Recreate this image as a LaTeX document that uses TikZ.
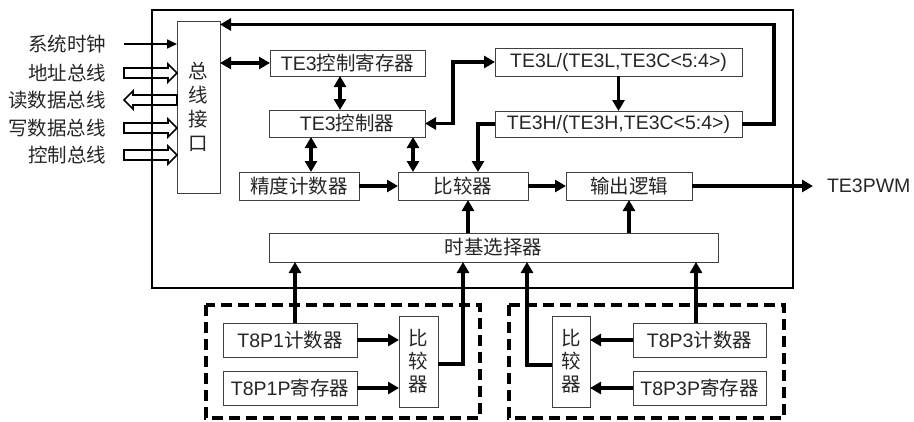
\documentclass[tikz,border=0pt]{standalone}
\usepackage{fontspec}
\setmainfont{Liberation Sans}
\newfontfamily\cjk{Noto Sans CJK SC}
\usetikzlibrary{arrows.meta,calc}
\begin{document}
\begin{tikzpicture}[x=1pt,y=-1pt,
  every node/.style={font=\fontsize{19.5}{23}\selectfont, text=black!85, inner sep=0pt, outer sep=0pt},
  box/.style={draw=black!75, line width=0.9pt, fill=white},
  arr/.style={line width=3.5pt, -{Triangle[length=11pt,width=12pt]}},
  dbl/.style={line width=3.5pt, {Triangle[length=11pt,width=12pt]}-{Triangle[length=11pt,width=12pt]}},
  thinarr/.style={line width=1.7pt, -{Triangle[length=10pt,width=9pt]}},
  hollow/.style={draw=black, line width=1.6pt},
  group/.style={draw=black, line width=3.2pt, dash pattern=on 11pt off 6pt},
  frame/.style={draw=black, line width=1.9pt}]
\useasboundingbox (0,0) rectangle (914,421);
% outer frame
\draw[frame] (152,10) rectangle (793,288);
% dashed groups
\draw[group] (206,305) rectangle (480,418);
\draw[group] (509,305) rectangle (784,418);
% left labels
\node[anchor=east,font=\fontsize{19.5}{23}\selectfont\cjk] (l1) at (106,44) {系统时钟};
\node[anchor=east,font=\fontsize{19.5}{23}\selectfont\cjk] (l2) at (106,73) {地址总线};
\node[anchor=east,font=\fontsize{19.5}{23}\selectfont\cjk] (l3) at (106,100) {读数据总线};
\node[anchor=east,font=\fontsize{19.5}{23}\selectfont\cjk] (l4) at (106,128) {写数据总线};
\node[anchor=east,font=\fontsize{19.5}{23}\selectfont\cjk] (l5) at (106,155) {控制总线};
% boxes
\node[box, minimum width=43pt, minimum height=172pt, align=center,
      font=\fontsize{19.5}{24}\selectfont\cjk] (bus) at (198.5,107) {总\\线\\接\\口};
\node[box, minimum width=155pt, minimum height=26pt] (reg) at (347.5,63) {TE3{\cjk 控制寄存器}};
\node[box, minimum width=156pt, minimum height=27pt] (ctl) at (347,123.5) {TE3{\cjk 控制器}};
\node[box, minimum width=120pt, minimum height=28pt, font=\fontsize{19.5}{23}\selectfont\cjk] (prec) at (299,186) {精度计数器};
\node[box, minimum width=130pt, minimum height=28pt, font=\fontsize{19.5}{23}\selectfont\cjk] (cmp) at (463,186) {比较器};
\node[box, minimum width=126pt, minimum height=28pt, font=\fontsize{19.5}{23}\selectfont\cjk] (out) at (629,186) {输出逻辑};
\node[box, minimum width=247pt, minimum height=28pt] (L) at (618.5,62) {TE3L/(TE3L,TE3C<5:4>)};
\node[box, minimum width=247pt, minimum height=26pt] (H) at (618.5,124) {TE3H/(TE3H,TE3C<5:4>)};
\node[box, minimum width=449pt, minimum height=29pt, font=\fontsize{19.5}{23}\selectfont\cjk] (tb) at (493.5,247.5) {时基选择器};
\node[box, minimum width=134pt, minimum height=34pt] (c1) at (290,340) {T8P1{\cjk 计数器}};
\node[box, minimum width=134pt, minimum height=34pt] (p1) at (290,388) {T8P1P{\cjk 寄存器}};
\node[box, minimum width=39pt, minimum height=91pt, align=center,
      font=\fontsize{19.5}{23}\selectfont\cjk] (k1) at (418.5,361.5) {比\\较\\器};
\node[box, minimum width=38pt, minimum height=91pt, align=center,
      font=\fontsize{19.5}{23}\selectfont\cjk] (k3) at (571,361.5) {比\\较\\器};
\node[box, minimum width=133pt, minimum height=34pt] (c3) at (699.5,340) {T8P3{\cjk 计数器}};
\node[box, minimum width=133pt, minimum height=34pt] (p3) at (699.5,388) {T8P3P{\cjk 寄存器}};
\node[anchor=west] (pwm) at (827,186) {TE3PWM};
% input side
\coordinate (s1) at (124,44);
\coordinate (s2) at (124,73);
\coordinate (s3) at (124,100);
\coordinate (s4) at (124,128);
\coordinate (s5) at (124,155);
\draw[thinarr] (s1) -- (bus.west |- s1);
\foreach \s in {s2,s4,s5}{
  \draw[hollow] (\s) ++(0,-5) -- ++(44,0) -- ++(0,-4) -- ++(9,9) -- ++(-9,9) -- ++(0,-4) -- ++(-44,0) -- cycle;
}
\draw[hollow] (bus.west |- s3) ++(0,-5) -- ++(-44,0) -- ++(0,-4) -- ++(-9,9) -- ++(9,9) -- ++(0,-4) -- ++(44,0) -- cycle;
% connectors
\draw[arr] (H.east) -| (774,24.5) -- (bus.east |- 774,24.5);
\draw[dbl] (bus.east |- reg) -- (reg.west);
\draw[dbl] (reg.south -| 340,0) -- (ctl.north -| 340,0);
\draw[dbl] (ctl.east) -- ++(28,0) |- (L.west);
\draw[arr] (L.south) -- (H.north);
\draw[arr] (H.west) -| ($(cmp.north)+(15,0)$);
\draw[dbl] (ctl.south -| 311,0) -- (prec.north -| 311,0);
\draw[dbl] (ctl.south -| 413,0) -- (cmp.north -| 413,0);
\draw[arr] (prec.east) -- (cmp.west);
\draw[arr] (cmp.east) -- (out.west);
\draw[arr] (out.east) -- ([xshift=-14pt]pwm.west);
\draw[arr] (tb.north -| 468,0) -- (cmp.south -| 468,0);
\draw[arr] (tb.north -| out) -- (out.south);
\draw[arr] (c1.north -| 295,0) -- (tb.south -| 295,0);
\draw[arr] (k1.east |- 0,364) -| (tb.south -| 463,0);
\draw[arr] (k3.west |- 0,365) -| (tb.south -| 527,0);
\draw[arr] (c3.north -| 696,0) -- (tb.south -| 696,0);
\draw[arr] (c1.east) -- (k1.west |- c1.east);
\draw[arr] (p1.east) -- (k1.west |- p1.east);
\draw[arr] (c3.west) -- (k3.east |- c3.west);
\draw[arr] (p3.west) -- (k3.east |- p3.west);
\end{tikzpicture}
\end{document}
